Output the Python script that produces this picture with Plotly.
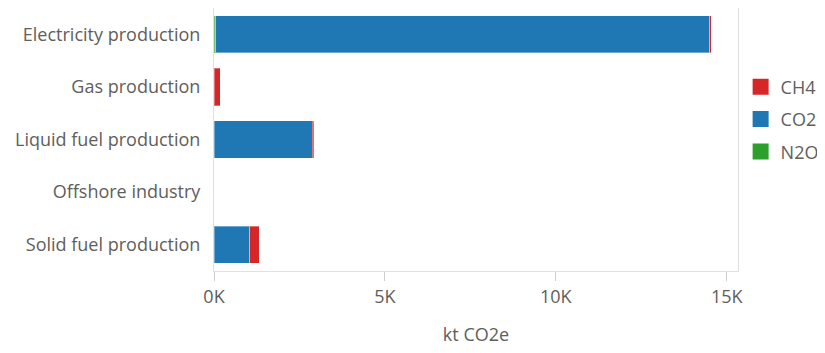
import plotly.graph_objects as go

categories = [
    "Electricity production",
    "Gas production",
    "Liquid fuel production",
    "Offshore industry",
    "Solid fuel production",
]
# kt CO2e per gas
n2o = [50, 0, 0, 0, 0]
co2 = [14450, 0, 2880, 0, 1050]
ch4 = [40, 180, 40, 0, 270]

colors = {"CH4": "#D62728", "CO2": "#1F77B4", "N2O": "#2CA02C"}
tick_vals = [0, 5000, 10000, 15000]
tick_text = ["0K", "5K", "10K", "15K"]

FONT = "Open Sans, Noto Sans, sans-serif"
TEXT = "#605E5C"
SIZE = 18

fig = go.Figure()
# stacked left to right: N2O, CO2, CH4
for name, vals in [("N2O", n2o), ("CO2", co2), ("CH4", ch4)]:
    fig.add_trace(go.Bar(
        y=categories, x=vals, name=name, orientation="h",
        marker=dict(color=colors[name], line=dict(color="rgba(255,255,255,0.35)", width=1)),
        showlegend=False,
    ))

# legend proxies so the swatches are large squares, listed CH4, CO2, N2O
for i, name in enumerate(["CH4", "CO2", "N2O"]):
    fig.add_trace(go.Scatter(
        x=[None], y=[None], mode="markers", name=name,
        legendgroup=name, legendrank=i,
        marker=dict(symbol="square", size=16, color=colors[name]),
    ))

# the html page adds ~8px body margin, so margins are offset to compensate
fig.update_layout(
    width=825, height=353,
    margin=dict(l=206, r=95, t=0, b=90, autoexpand=False),
    barmode="stack", bargap=0.29,
    plot_bgcolor="white", paper_bgcolor="white",
    font=dict(family=FONT, size=SIZE, color=TEXT),
    legend=dict(
        x=1.005, y=0.77, xanchor="left", yanchor="top",
        tracegroupgap=6, itemsizing="trace",
        font=dict(size=SIZE, color=TEXT),
    ),
    xaxis=dict(
        range=[0, 15330], tickvals=tick_vals, ticktext=tick_text,
        showgrid=False, zeroline=False, ticks="outside", ticklen=9,
        tickcolor="#D0D0D0", showline=True, linecolor="#E0E0E0", mirror=True,
        title=dict(text="kt CO2e", standoff=21, font=dict(size=SIZE, color=TEXT)),
        tickfont=dict(size=SIZE, color=TEXT),
    ),
    yaxis=dict(
        categoryorder="array", categoryarray=categories, autorange="reversed",
        showgrid=False, showline=True, linecolor="#E0E0E0", mirror=True,
        ticks="", ticklabelstandoff=9, tickfont=dict(size=SIZE, color=TEXT),
    ),
)

fig.write_html("out.html")
